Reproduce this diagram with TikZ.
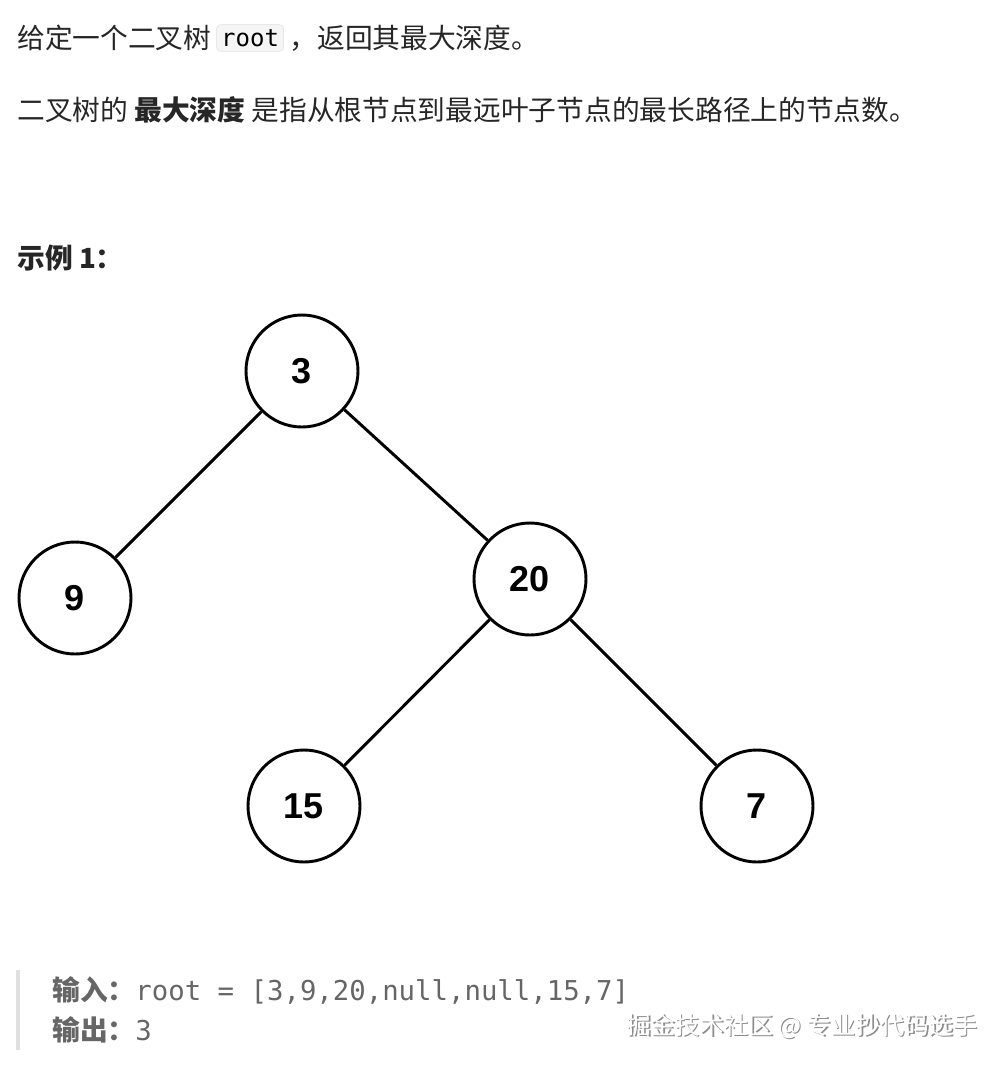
\documentclass[tikz,border=0pt]{standalone}
\usepackage{fontspec}
\setmainfont{Noto Sans CJK SC}
\setmonofont{DejaVu Sans Mono}
\begin{document}
\begin{tikzpicture}[x={(0.75pt,0)},y={(0,-0.75pt)},
  tn/.style={circle,draw,line width=2.2pt,minimum size=84pt,inner sep=0pt,font=\fontspec{Liberation Sans}\bfseries\fontsize{27}{30}\selectfont},
  edge/.style={line width=2.2pt},
  txt/.style={anchor=west,inner sep=0pt,font=\fontsize{20.8}{24}\selectfont,text=black!85}]
\useasboundingbox (0,0) rectangle (1006,1068);
\node[txt] (l1) at (17,38) {给定一个二叉树\,};
\node[anchor=west,draw=black!12,fill=black!4,rounded corners=3pt,inner sep=3.5pt,font=\ttfamily\fontsize{18}{20}\selectfont] (code) at (l1.east) {root};
\node[txt] (l1b) at ([xshift=4pt]code.east) {，返回其最大深度。};
\node[txt] (l2) at (17,110) {二叉树的 \textbf{最大深度} 是指从根节点到最远叶子节点的最长路径上的节点数。};
\node[txt] (ex) at (17,258) {\textbf{示例 1：}};
\begin{scope}
\clip (0,300) rectangle (1006,863);
\node[tn] (n3) at (302,371) {3};
\node[tn] (n9) at (75,598) {9};
\node[tn] (n20) at (530,579) {20};
\node[tn] (n15) at (304,806) {15};
\node[tn] (n7) at (757,806) {7};
\draw[edge] (n3) -- (n9);
\draw[edge] (n3) -- (n20);
\draw[edge] (n20) -- (n15);
\draw[edge] (n20) -- (n7);
\end{scope}
\fill[black!12] (16,970) rectangle (20,1050);
\node[txt,text=black!60,font=\fontsize{20.8}{24}\selectfont] (in) at (52,990) {\textbf{输入：}\ttfamily\fontsize{20.5}{24}\selectfont root = [3,9,20,null,null,15,7]};
\node[txt,text=black!60] (out) at (52,1030) {\textbf{输出：}\ttfamily\fontsize{20.5}{24}\selectfont 3};
\node[anchor=east,inner sep=0pt,font=\fontsize{18.3}{20}\selectfont] at (979.5,1027.5) {\textcolor{black!45}{掘金技术社区 @ 专业抄代码选手}};
\node[anchor=east,inner sep=0pt,font=\fontsize{18.3}{20}\selectfont,text=white] (wm) at (978,1026) {掘金技术社区 @ 专业抄代码选手};
\end{tikzpicture}
\end{document}
